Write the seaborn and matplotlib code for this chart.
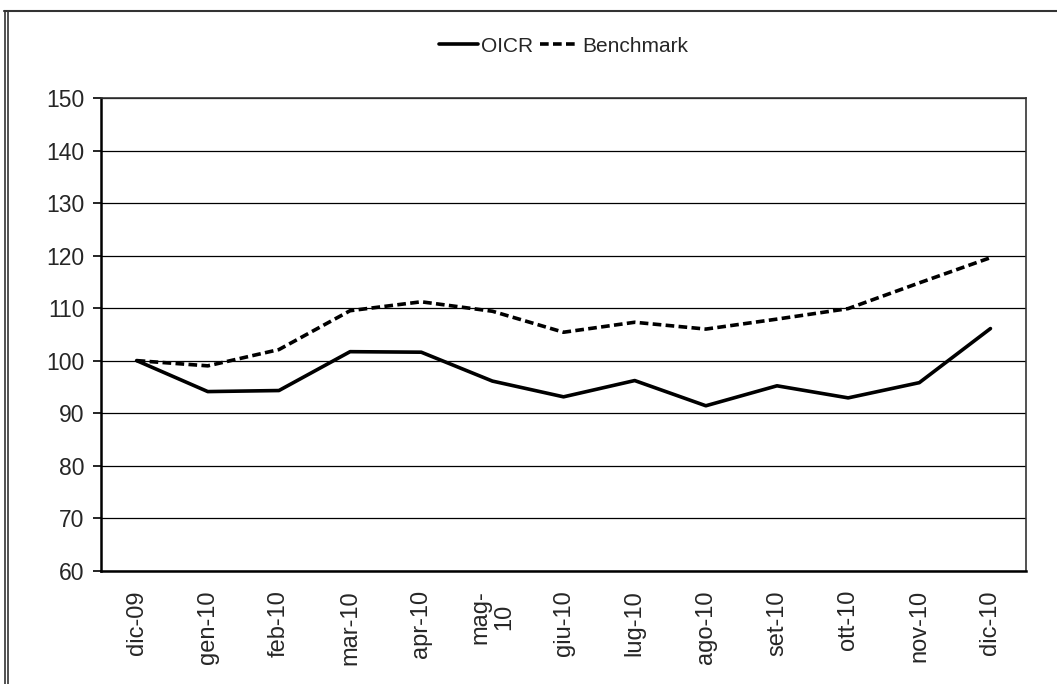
import numpy as np
import pandas as pd
import matplotlib
matplotlib.use("Agg")
import matplotlib.pyplot as plt
import seaborn as sns
from matplotlib.lines import Line2D

months = ['dic-09', 'gen-10', 'feb-10', 'mar-10', 'apr-10', 'mag-\n10', 'giu-10',
          'lug-10', 'ago-10', 'set-10', 'ott-10', 'nov-10', 'dic-10']
oicr = [100.0, 94.1, 94.3, 101.7, 101.6, 96.1, 93.1, 96.2, 91.4, 95.2, 92.9, 95.8, 106.1]
benchmark = [100.0, 99.0, 102.1, 109.5, 111.2, 109.4, 105.4, 107.3, 106.0, 107.9, 109.9, 114.8, 119.6]
y_ticks = [60, 70, 80, 90, 100, 110, 120, 130, 140, 150]

df = pd.DataFrame({'pos': np.arange(len(months)), 'OICR': oicr, 'Benchmark': benchmark})

sns.set_style("white")
plt.rcParams['font.family'] = ['Liberation Sans', 'DejaVu Sans']

fig = plt.figure(figsize=(10.57, 6.84), dpi=100)
ax = fig.add_axes([0.0956, 0.1657, 0.8751, 0.691])

sns.lineplot(data=df, x='pos', y='OICR', ax=ax, color='black', linewidth=2.6, label='OICR')
sns.lineplot(data=df, x='pos', y='Benchmark', ax=ax, color='black', linewidth=2.6,
             linestyle=(0, (2.4, 1.2)), label='Benchmark')

ax.set_xlim(-0.5, len(months) - 0.5)
ax.set_ylim(60, 150)
ax.set_yticks(y_ticks)
ax.set_yticklabels([str(v) for v in y_ticks], fontsize=16.5)
ax.yaxis.grid(True, color='black', linewidth=0.9)
ax.set_axisbelow(True)

ax.set_xticks(df['pos'])
ax.set_xticklabels(months, rotation=90, fontsize=17, linespacing=1.15)
ax.set_xticks(np.arange(-0.5, len(months), 1), minor=True)
ax.tick_params(axis='x', which='major', length=0, pad=14)
ax.tick_params(axis='x', which='minor', length=7, width=1.2, color='black', direction='out')
ax.tick_params(axis='y', length=6, width=1.2, color='black', direction='out', left=True, pad=6)
ax.set_xlabel('')
ax.set_ylabel('')

for side in ['left', 'bottom']:
    ax.spines[side].set_color('black')
    ax.spines[side].set_linewidth(1.8)
for side in ['top', 'right']:
    ax.spines[side].set_color('#333333')
    ax.spines[side].set_linewidth(1.2)

ax.legend(loc='lower center', bbox_to_anchor=(0.5, 1.05), ncol=2, frameon=False,
          fontsize=15, handlelength=1.9, handletextpad=0.15, columnspacing=0.3)

# outer frame: top line and double left line
fig.add_artist(Line2D([0.004, 1.0], [0.984, 0.984], transform=fig.transFigure, color='#333333', linewidth=1.5))
fig.add_artist(Line2D([0.0047, 0.0047], [0.0, 0.984], transform=fig.transFigure, color='#333333', linewidth=1.2))
fig.add_artist(Line2D([0.0071, 0.0071], [0.0, 0.984], transform=fig.transFigure, color='#333333', linewidth=1.2))

fig.savefig('out.png', dpi=100)
